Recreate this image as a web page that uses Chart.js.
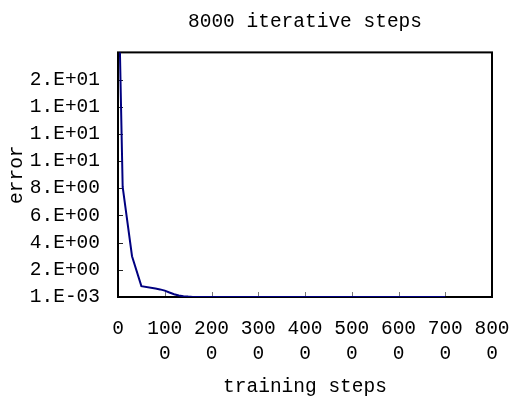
<!DOCTYPE html>
<html>
<head>
<meta charset="utf-8">
<script src="https://cdn.jsdelivr.net/npm/chart.js@4"></script>
<style>
  body { margin: 0; background: #fff; }
</style>
</head>
<body>
<canvas id="chart" width="510" height="399"></canvas>
<script>
// values
const steps = [0, 100, 300, 500, 800, 900, 1000, 1100, 1200, 1300, 1400, 1500, 1600, 1800, 2000, 3000, 4000, 5000, 6000, 7000];
const errors = [25, 8.1, 3.0, 0.8, 0.62, 0.56, 0.47, 0.33, 0.2, 0.11, 0.06, 0.03, 0.01, 0.001, 0.001, 0.001, 0.001, 0.001, 0.001, 0.001];

const xTickLabels = ['0', ['100', '0'], ['200', '0'], ['300', '0'], ['400', '0'], ['500', '0'], ['600', '0'], ['700', '0'], ['800', '0']];
const yTickValues = [0.001, 2.001, 4.001, 6.001, 8.001, 10.001, 12.001, 14.001, 16.001, 18.001];
const yTickLabels = ['1.E-03', '2.E+00', '4.E+00', '6.E+00', '8.E+00', '1.E+01', '1.E+01', '1.E+01', '2.E+01', ''];

Chart.defaults.font.family = "'Liberation Mono', monospace";
Chart.defaults.font.size = 19.5;
Chart.defaults.color = '#000';

// black box round the plot and short inward tick marks
const frame = {
    id: 'frame',
    beforeDatasetsDraw(chart) {
        const {ctx, chartArea: a, scales: {x, y}} = chart;
        ctx.save();
        ctx.lineWidth = 1;
        ctx.strokeStyle = '#222';
        ctx.beginPath();
        y.ticks.forEach(t => {
            const py = Math.round(y.getPixelForValue(t.value)) + 0.5;
            ctx.moveTo(a.left, py);
            ctx.lineTo(a.left + 5, py);
        });
        ctx.stroke();
        ctx.strokeStyle = '#777';
        ctx.beginPath();
        x.ticks.forEach(t => {
            const px = Math.round(x.getPixelForValue(t.value)) + 0.5;
            ctx.moveTo(px, a.bottom);
            ctx.lineTo(px, a.bottom - 5);
        });
        ctx.stroke();
        ctx.strokeStyle = '#000';
        ctx.lineWidth = 2;
        ctx.strokeRect(a.left, a.top, a.right - a.left, a.bottom - a.top);
        ctx.restore();
    }
};

new Chart(document.getElementById('chart'), {
    type: 'line',
    data: {
        datasets: [{
            data: steps.map((s, i) => ({x: s, y: errors[i]})),
            borderColor: '#000080',
            borderWidth: 2,
            pointRadius: 0,
            tension: 0
        }]
    },
    options: {
        responsive: false,
        animation: false,
        plugins: {
            legend: {display: false},
            tooltip: {enabled: false},
            title: {
                display: true,
                text: '8000 iterative steps',
                fullSize: false,
                font: {size: 19.5, weight: 'normal'},
                padding: {top: 10, bottom: 19}
            }
        },
        scales: {
            x: {
                type: 'linear',
                min: 0,
                max: 8000,
                grid: {display: false, drawTicks: false},
                border: {display: false},
                ticks: {
                    stepSize: 1000,
                    maxRotation: 0,
                    autoSkip: false,
                    padding: 19,
                    font: {lineHeight: 1.28},
                    callback: (v, i) => xTickLabels[i]
                },
                title: {
                    display: true,
                    text: 'training steps',
                    padding: {top: 11, bottom: 0}
                },
                afterFit: s => {
                    s.height = 102;
                    s.paddingRight = 18;
                    s.paddingLeft = 0;
                }
            },
            y: {
                min: 0.001,
                max: 18.001,
                grid: {display: false, drawTicks: false},
                border: {display: false},
                afterBuildTicks: s => { s.ticks = yTickValues.map(v => ({value: v})); },
                ticks: {
                    padding: 18,
                    callback: (v, i) => yTickLabels[i]
                },
                title: {
                    display: true,
                    text: 'error',
                    padding: {top: 5, bottom: 1}
                },
                afterFit: s => { s.width = 118; }
            }
        }
    },
    plugins: [frame]
});
</script>
</body>
</html>
